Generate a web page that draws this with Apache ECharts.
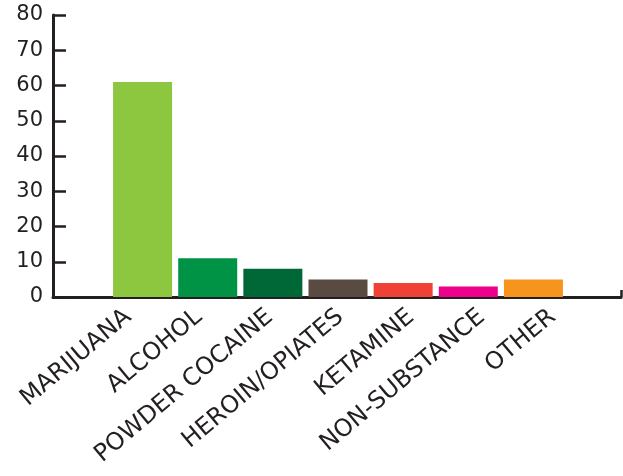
<!DOCTYPE html>
<html>
<head>
<meta charset="utf-8">
<script src="https://cdn.jsdelivr.net/npm/echarts@6/dist/echarts.min.js"></script>
<style>
  html, body { margin: 0; padding: 0; background: #ffffff; }
  #chart { width: 623px; height: 476px; }
</style>
</head>
<body>
<div id="chart"></div>
<script>
// Substances and their share (percent)
const categories = ['MARIJUANA', 'ALCOHOL', 'POWDER COCAINE', 'HEROIN/OPIATES', 'KETAMINE', 'NON-SUBSTANCE', 'OTHER'];
const values = [61, 11, 8, 5, 4, 3, 5];
const barColors = ['#8dc63f', '#009245', '#006837', '#594a42', '#ef4136', '#ec008c', '#f7941d'];
const yTicks = { min: 0, max: 80, interval: 10 };

const ink = '#231f20';
const font = 'DejaVu Sans';

const chart = echarts.init(document.getElementById('chart'), null, { renderer: 'canvas' });

chart.setOption({
  animation: false,
  backgroundColor: '#ffffff',
  grid: [
    // frame: y axis and baseline
    { left: 53, right: 2, top: 15, bottom: 179 },
    // bars
    { left: 110, right: 57, top: 15, bottom: 179 },
    // category labels
    { left: 93, right: 35, top: 15, bottom: 179 }
  ],
  xAxis: [
    {
      gridIndex: 0, type: 'value', min: 0, max: 1, interval: 1,
      axisLine: { show: true, lineStyle: { color: ink, width: 3 } },
      axisTick: { show: true, inside: true, length: 7, lineStyle: { color: ink, width: 2.5 } },
      axisLabel: { show: false },
      splitLine: { show: false }
    },
    {
      gridIndex: 1, type: 'category', data: categories,
      axisLine: { show: false }, axisTick: { show: false }, axisLabel: { show: false }
    },
    {
      gridIndex: 2, type: 'category', data: categories,
      axisLine: { show: false }, axisTick: { show: false },
      axisLabel: {
        show: true, interval: 0, rotate: 40, margin: 17,
        color: ink, fontFamily: font, fontSize: 24
      }
    }
  ],
  yAxis: [
    {
      gridIndex: 0, type: 'value', min: yTicks.min, max: yTicks.max, interval: yTicks.interval,
      axisLine: { show: true, lineStyle: { color: ink, width: 3 } },
      axisTick: { show: true, inside: true, length: 13, lineStyle: { color: ink, width: 2.5 } },
      axisLabel: { show: true, margin: 10, color: ink, fontFamily: font, fontSize: 21 },
      splitLine: { show: false }
    },
    {
      gridIndex: 1, type: 'value', min: yTicks.min, max: yTicks.max, interval: yTicks.interval,
      show: false
    },
    {
      gridIndex: 2, type: 'value', min: yTicks.min, max: yTicks.max, show: false
    }
  ],
  series: [
    {
      type: 'bar', xAxisIndex: 1, yAxisIndex: 1,
      barWidth: 59,
      data: values.map((v, i) => ({ value: v, itemStyle: { color: barColors[i] } })),
      z: 1
    }
  ]
});
</script>
</body>
</html>
